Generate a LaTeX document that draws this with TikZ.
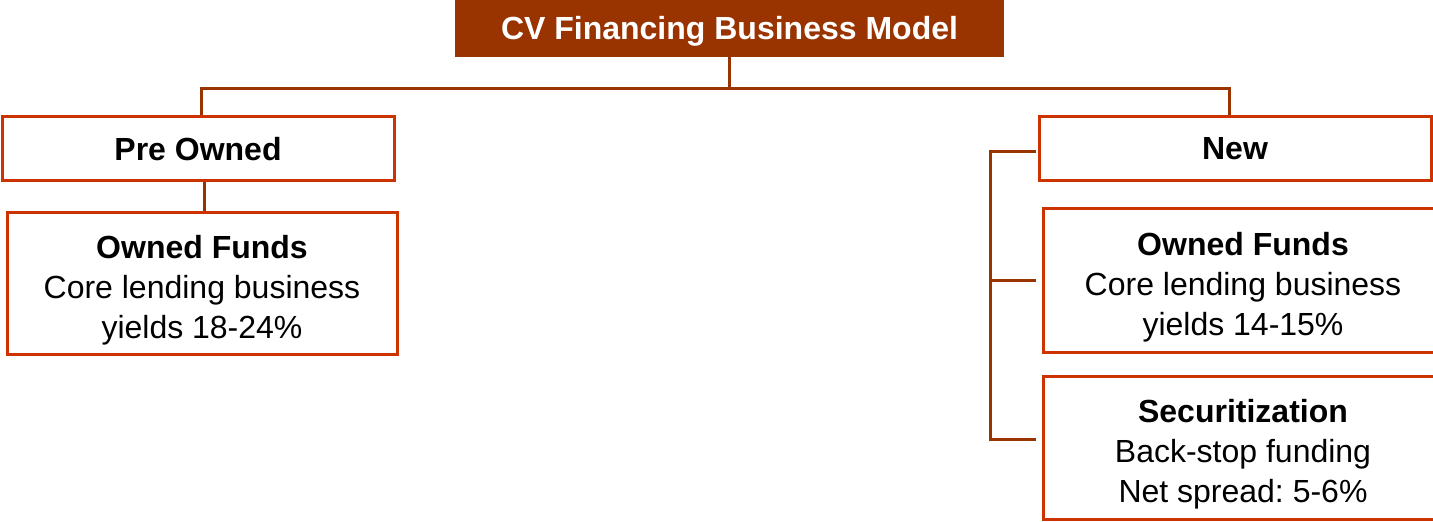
\documentclass[tikz,border=0pt]{standalone}
\usepackage{fontspec}
\setmainfont{Liberation Sans}
\usepackage{xcolor}
\usepackage{tikz}
\usetikzlibrary{positioning, calc}
\definecolor{cvbrown}{HTML}{993300}
\definecolor{cvorange}{HTML}{CC3300}
\frenchspacing

% taller first line, pushes the box text a little down
\newcommand{\fundstrut}{\rule{0pt}{17.8pt}}

\tikzset{
  headbox/.style={fill=cvbrown, text=white, font=\bfseries\fontsize{16}{20}\selectfont,
                  minimum width=274.5pt, minimum height=28.5pt, inner sep=0pt,
                  text height=14.8pt, text depth=3.4pt},
  catbox/.style={draw=cvorange, line width=1.5pt, fill=white,
                 font=\bfseries\fontsize{16}{20}\selectfont,
                 minimum width=196pt, minimum height=32pt, inner sep=0pt},
  fundbox/.style={draw=cvorange, line width=1.5pt, fill=white, align=center,
                  font=\fontsize{16}{20}\selectfont, inner sep=0pt},
  link/.style={draw=cvbrown, line width=1.5pt}
}

\begin{document}
\begin{tikzpicture}[x=0.5pt, y=-0.5pt]
  \useasboundingbox (0,0) rectangle (1433,522);
  \clip (0,0) rectangle (1433,522);

  % top of the tree
  \node[headbox] (title) at (729.5,28.5) {CV Financing Business Model};

  % the two vehicle categories
  \node[catbox] (preowned) at (198,149) {Pre Owned};
  \node[catbox] (new) at (1235,149) {New};

  % funding boxes
  \node[fundbox, minimum width=195pt, minimum height=71pt] (ownedL) at (202,284)
    {\fundstrut\textbf{Owned Funds}\\Core lending business\\yields 18-24\%};
  \node[fundbox, minimum width=200pt, minimum height=72pt] (ownedR) at (1243,281)
    {\fundstrut\textbf{Owned Funds}\\Core lending business\\yields 14-15\%};
  \node[fundbox, minimum width=200pt, minimum height=71.5pt] (secur) at (1243,448.5)
    {\fundstrut\textbf{Securitization}\\Back-stop funding\\Net spread: 5-6\%};

  % connectors from the title
  \coordinate (busL) at (201,89);
  \coordinate (busR) at (1229,89);
  \draw[link] (title.south) -- (title.south |- busL);
  \draw[link] (busL |- preowned.north) -- (busL) -- (busR) -- (busR |- new.north);

  % pre owned branch
  \draw[link] ([xshift=3pt]preowned.south) -- ([xshift=3pt]preowned.south |- ownedL.north);

  % new branch, bracket on the left
  \coordinate (spineT) at (990,152);
  \coordinate (spineB) at (990,440);
  \draw[link] ([xshift=-1pt]new.west |- spineT) -- (spineT) -- (spineB)
    -- ([xshift=-3pt]secur.west |- spineB);
  \draw[link] (spineT |- ownedR.west) -- ([xshift=-3pt]ownedR.west);
\end{tikzpicture}
\end{document}
